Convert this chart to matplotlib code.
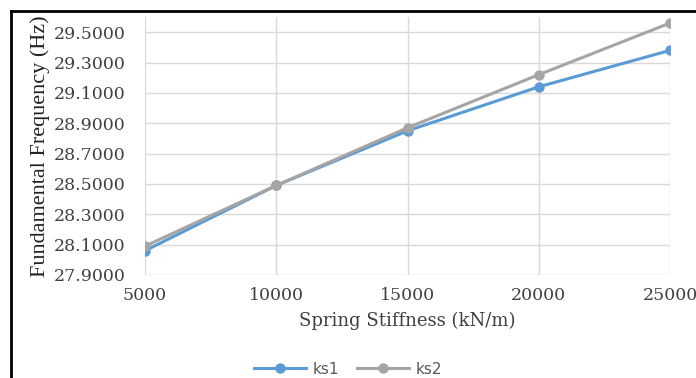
import matplotlib.pyplot as plt
from matplotlib.lines import Line2D

# spring stiffness (kN/m) vs fundamental frequency (Hz)
stiffness = [5000, 10000, 15000, 20000, 25000]
ks1 = [28.06, 28.49, 28.85, 29.14, 29.38]
ks2 = [28.09, 28.49, 28.87, 29.22, 29.56]
y_ticks = [27.9, 28.1, 28.3, 28.5, 28.7, 28.9, 29.1, 29.3, 29.5]

fig = plt.figure(figsize=(6.96, 3.78), dpi=100)
ax = fig.add_axes([145 / 696, 1 - 275 / 378, 525 / 696, 258 / 378])

ax.plot(stiffness, ks1, color='#5B9BD5', lw=2.2, marker='o', ms=6.5, label='ks1', zorder=3)
ax.plot(stiffness, ks2, color='#A5A5A5', lw=2.2, marker='o', ms=6.5, label='ks2', zorder=3)

ax.set_xlim(5000, 25000)
ax.set_ylim(27.9, 29.6)
ax.set_xticks(stiffness)
ax.set_yticks(y_ticks)
ax.set_yticklabels([f'{v:.4f}' for v in y_ticks])
ax.grid(True, color='#D9D9D9', lw=1)
ax.set_axisbelow(True)
for s in ax.spines.values():
    s.set_visible(False)
ax.tick_params(length=0, labelcolor='#404040', labelsize=12.5)
ax.tick_params(axis='y', pad=14)
ax.tick_params(axis='x', pad=9)
for lab in ax.get_xticklabels() + ax.get_yticklabels():
    lab.set_family('DejaVu Serif')

ax.set_ylabel('Fundamental Frequency (Hz)', family='Liberation Serif', fontsize=16,
              color='#222222', labelpad=3)
ax.set_xlabel('Spring Stiffness (kN/m)', family='DejaVu Serif', fontsize=13,
              color='#404040', labelpad=5)

fig.legend(loc='center', bbox_to_anchor=(0.5, 1 - 369 / 378), ncol=2, frameon=False,
           prop={'family': 'DejaVu Sans', 'size': 11}, labelcolor='#595959',
           handlelength=3.4, columnspacing=1.2, handletextpad=0.4)

# black frame around the figure (left and top visible)
fig.add_artist(Line2D([11 / 696, 11 / 696], [0, 1 - 11 / 378], color='black', lw=2))
fig.add_artist(Line2D([11 / 696, 1], [1 - 11 / 378, 1 - 11 / 378], color='black', lw=2))

fig.savefig('out.png', dpi=100)
